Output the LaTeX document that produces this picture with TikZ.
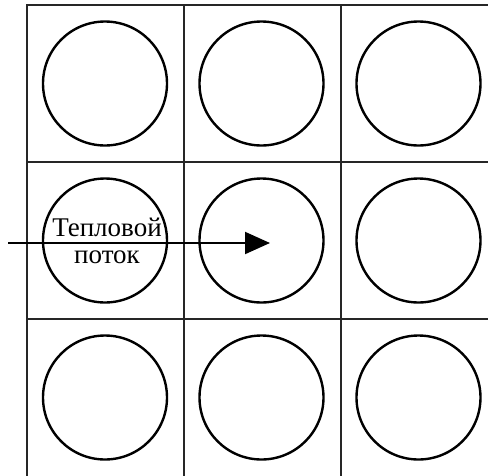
\documentclass[tikz,border=0pt]{standalone}
\usepackage{fontspec}
\setmainfont{Liberation Serif}
\usetikzlibrary{arrows.meta}
\begin{document}
\begin{tikzpicture}[x=1pt,y=-1pt,
  gridline/.style={line width=2pt,draw=black!85},
  cell/.style={circle,draw,line width=2.4pt,minimum size=124pt,inner sep=0pt},
  flow/.style={line width=2pt,-{Triangle[length=25pt,width=22pt]}},
  lbl/.style={font=\fontsize{27}{27}\selectfont,align=center,inner sep=0pt}]
\useasboundingbox (0,0) rectangle (488,475);
\fill[white] (0,0) rectangle (488,475);
% grid
\draw[gridline] (27,500) -- (27,5) -- (500,5);
\draw[gridline] (183.5,5) -- (183.5,500);
\draw[gridline] (340.5,5) -- (340.5,500);
\draw[gridline] (27,162) -- (500,162);
\draw[gridline] (27,319) -- (500,319);
% circles
\foreach \i/\x in {1/105,2/261.5,3/418.5}
  \foreach \j/\y in {1/83.5,2/240.5,3/397.5}
    \node[cell] (c\j\i) at (\x,\y) {};
% arrow
\coordinate (s) at (8,243);
\coordinate (t) at (270,243);
\draw[flow] (s) -- (t);
\node[lbl] (txt) at (107,241) {Тепловой\\поток};
\end{tikzpicture}
\end{document}
